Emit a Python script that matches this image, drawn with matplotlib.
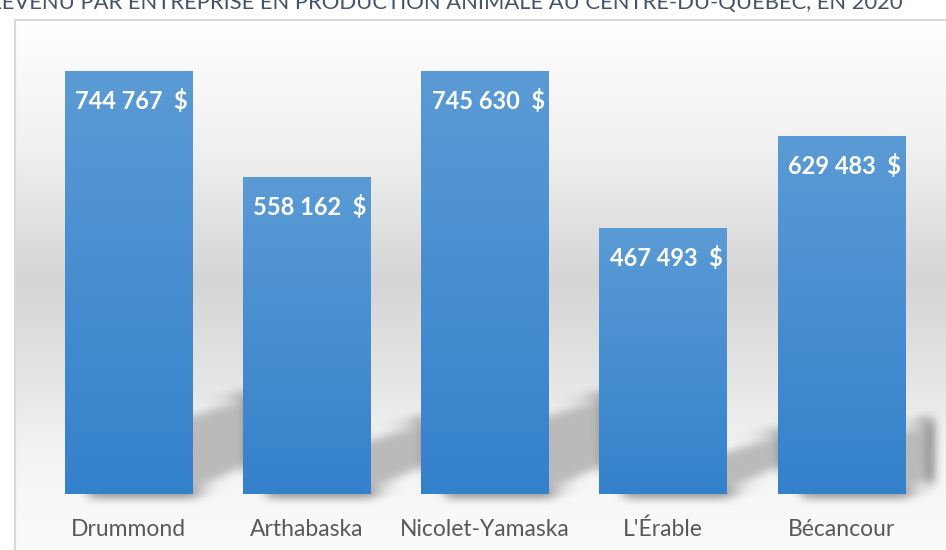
import numpy as np
import matplotlib
matplotlib.use("Agg")
import matplotlib.pyplot as plt
from matplotlib.colors import LinearSegmentedColormap
from matplotlib.patches import Polygon

regions = ["Drummond", "Arthabaska", "Nicolet-Yamaska", "L'Érable", "Bécancour"]
revenus = [744767, 558162, 745630, 467493, 629483]
titre = "REVENU PAR ENTREPRISE EN PRODUCTION ANIMALE AU CENTRE-DU-QUÉBEC, EN 2020"

plt.rcParams['font.family'] = ['Lato', 'DejaVu Sans']

W, H = 946, 550
fig = plt.figure(figsize=(W / 100, H / 100), dpi=100)
fig.patch.set_facecolor('white')


# flou gaussien approx. (3 passes de box blur) pour l'ombre
def box_blur(a, r, axis):
    c = np.cumsum(np.pad(a, [(r + 1, r) if i == axis else (0, 0) for i in range(a.ndim)], mode='edge'), axis=axis)
    n = a.shape[axis]
    hi = np.take(c, np.arange(2 * r + 1, 2 * r + 1 + n), axis=axis)
    lo = np.take(c, np.arange(0, n), axis=axis)
    return (hi - lo) / (2 * r + 1)


def blur_filter(im, dpi, r=5):
    pad = 3 * r + 2
    img = np.pad(im, [(pad, pad), (pad, pad), (0, 0)], 'constant')
    for _ in range(3):
        img = box_blur(img, r, 0)
        img = box_blur(img, r, 1)
    return img, -pad, -pad


# fond du graphique (dégradé vertical)
bg = fig.add_axes([15 / W, 0, 1 - 15 / W, 530 / H])
stops = [(0.0, (1, 1, 1)), (0.25, (0.94, 0.94, 0.94)), (0.49, (0.835, 0.835, 0.835)),
         (0.68, (0.90, 0.90, 0.90)), (0.82, (0.955, 0.955, 0.955)), (1.0, (0.985, 0.985, 0.985))]
cmap_bg = LinearSegmentedColormap.from_list('bg', stops)
bg.imshow(np.linspace(0, 1, 256).reshape(-1, 1), cmap=cmap_bg, aspect='auto',
          extent=[0, 1, 0, 1], interpolation='bicubic')
bg.set_xlim(0, 1)
bg.set_ylim(0, 1)
bg.set_xticks([])
bg.set_yticks([])
for s in ['right', 'bottom']:
    bg.spines[s].set_visible(False)
for s in ['left', 'top']:
    bg.spines[s].set_color('#d9d9d9')
    bg.spines[s].set_linewidth(1.5)

# axes principal
ax = fig.add_axes([39.5 / W, 56 / H, 891 / W, 474 / H])
ax.set_facecolor('none')
x = np.arange(len(regions))
ymax = 474 * 744767 / 423
ax.set_xlim(-0.5, len(regions) - 0.5)
ax.set_ylim(0, ymax)
largeur = 0.715

px_x = 1 / 178.0
px_y = ymax / 474.0

# ombres en perspective derrière les barres
for i, v in zip(x, revenus):
    hs = 0.23 * v
    xl, xr = i - largeur / 2, i + largeur / 2
    pts = [(xl + 25 * px_x, 0), (xr, 0), (xr + 55 * px_x, 26 * px_y),
           (xr + 55 * px_x, hs + 2 * px_y), (xr, hs - 16 * px_y), (xl + 25 * px_x, hs - 16 * px_y)]
    sh = Polygon(pts, closed=True, facecolor='#bababa', edgecolor='none', zorder=1)
    sh.set_agg_filter(blur_filter)
    ax.add_patch(sh)

# barres en dégradé
cmap_bar = LinearSegmentedColormap.from_list('bar', ['#3481cb', '#5b9bd5'])
barres = ax.bar(x, revenus, width=largeur, color='none', edgecolor='none', zorder=2)
for b in barres:
    im = ax.imshow(np.linspace(1, 0, 256).reshape(-1, 1), cmap=cmap_bar, aspect='auto',
                   extent=[b.get_x(), b.get_x() + b.get_width(), 0, b.get_height()],
                   zorder=3, interpolation='bicubic')
    im.set_clip_path(b)

ax.set_xlim(-0.5, len(regions) - 0.5)
ax.set_ylim(0, ymax)

for i, v in zip(x, revenus):
    txt = f"{v:,}".replace(",", " ") + "  $"
    ax.annotate(txt, (i, v), xytext=(3, -30), textcoords='offset pixels',
                ha='center', va='center', color='white', fontsize=17,
                fontweight='bold', zorder=5)

ax.set_xticks(x, regions)
ax.tick_params(axis='x', length=0, pad=18, labelsize=16.5, labelcolor='#595959')
ax.set_yticks([])
for s in ax.spines.values():
    s.set_visible(False)

# titre (coupé en haut de l'image, comme dans l'original)
t = fig.text(-12 / W, 1 - 9 / H, titre, ha='left', va='baseline',
             fontsize=16, color='#44546a')
fig.canvas.draw()
w = t.get_window_extent().width
t.set_fontsize(16 * 917 / w)

fig.savefig('out.png', dpi=100)
